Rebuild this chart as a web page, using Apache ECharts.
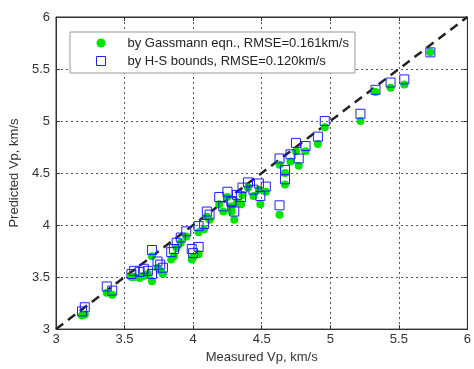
<!DOCTYPE html>
<html>
<head>
<meta charset="utf-8">
<script src="https://cdn.jsdelivr.net/npm/echarts@6/dist/echarts.min.js"></script>
<style>
  html, body { margin: 0; padding: 0; background: #fff; }
  #chart { width: 474px; height: 369px; }
</style>
</head>
<body>
<div id="chart"></div>
<script>
// measured Vp (km/s) and the two predictions for each sample
const measured = [3.19, 3.21, 3.37, 3.41, 3.55, 3.57, 3.61, 3.64, 3.67, 3.70,
  3.70, 3.74, 3.76, 3.78, 3.84, 3.86, 3.88, 3.91, 3.95, 3.99,
  4.00, 4.04, 4.04, 4.08, 4.10, 4.12, 4.19, 4.22, 4.25, 4.28,
  4.28, 4.30, 4.32, 4.35, 4.36, 4.40, 4.44, 4.48, 4.49, 4.53,
  4.63, 4.63, 4.67, 4.67, 4.71, 4.75, 4.77, 4.82, 4.91, 4.96,
  5.22, 5.33, 5.44, 5.54, 5.73];
const gassmann = [3.13, 3.14, 3.35, 3.33, 3.50, 3.50, 3.49, 3.51, 3.53, 3.46,
  3.70, 3.59, 3.56, 3.53, 3.67, 3.70, 3.78, 3.83, 3.89, 3.67,
  3.69, 3.72, 3.93, 3.96, 4.08, 4.05, 4.20, 4.13, 4.27, 4.13,
  4.18, 4.05, 4.22, 4.20, 4.29, 4.36, 4.28, 4.34, 4.20, 4.32,
  4.10, 4.58, 4.39, 4.50, 4.61, 4.71, 4.57, 4.71, 4.78, 4.94,
  5.00, 5.28, 5.32, 5.35, 5.66];
const hsBounds = [3.17, 3.21, 3.41, 3.37, 3.53, 3.56, 3.55, 3.58, 3.56, 3.53,
  3.76, 3.65, 3.62, 3.59, 3.74, 3.77, 3.83, 3.88, 3.94, 3.77,
  3.73, 3.79, 3.99, 4.01, 4.13, 4.10, 4.27, 4.18, 4.32, 4.22,
  4.23, 4.13, 4.29, 4.27, 4.36, 4.41, 4.34, 4.40, 4.28, 4.37,
  4.19, 4.64, 4.44, 4.53, 4.68, 4.79, 4.64, 4.76, 4.85, 5.00,
  5.07, 5.30, 5.37, 5.40, 5.66];
const refLine = [3, 6];
const legendNames = ['by Gassmann eqn., RMSE=0.161km/s', 'by H-S bounds, RMSE=0.120km/s'];

const chart = echarts.init(document.getElementById('chart'));

const font = 'Liberation Sans, Arial, sans-serif';
const axisColor = '#333';
const green = '#00e600';
const blue = '#2020ff';

const baseAxis = {
  type: 'value',
  min: 3,
  max: 6,
  interval: 0.5,
  axisLine: { show: true, onZero: false, lineStyle: { color: axisColor, width: 1 } },
  axisTick: { show: true, inside: true, length: 4, lineStyle: { color: axisColor } },
  splitLine: { show: false }
};

const option = {
  backgroundColor: '#fff',
  animation: false,
  grid: { left: 56, right: 4, top: 17, bottom: 39, show: true, borderColor: axisColor, borderWidth: 1 },
  legend: {
    left: 70,
    top: 32,
    orient: 'vertical',
    backgroundColor: '#fff',
    borderColor: '#999',
    borderWidth: 1,
    borderRadius: 0,
    padding: [4, 6, 5, 26],
    itemGap: 4,
    itemWidth: 9,
    itemHeight: 9,
    textStyle: { fontFamily: font, fontSize: 13, color: '#222', lineHeight: 14, padding: [0, 0, 0, 17] },
    data: [
      { name: legendNames[0], icon: 'circle', itemStyle: { color: green, borderWidth: 0 } },
      { name: legendNames[1], icon: 'rect', itemStyle: { color: 'rgba(0,0,0,0)', borderColor: blue, borderWidth: 1 } }
    ]
  },
  xAxis: [
    Object.assign({}, baseAxis, {
      position: 'bottom',
      name: 'Measured Vp, km/s',
      nameLocation: 'middle',
      nameGap: 20,
      nameTextStyle: { fontFamily: font, fontSize: 13, color: axisColor },
      axisLabel: { fontFamily: font, fontSize: 13, color: axisColor, margin: 4 },
      splitLine: { show: true, lineStyle: { color: '#555', type: [2, 3], width: 1 } }
    }),
    Object.assign({}, baseAxis, { position: 'top', axisLabel: { show: false } })
  ],
  yAxis: [
    Object.assign({}, baseAxis, {
      position: 'left',
      name: 'Predicted Vp, km/s',
      nameLocation: 'middle',
      nameGap: 34,
      nameTextStyle: { fontFamily: font, fontSize: 13, color: axisColor },
      axisLabel: { fontFamily: font, fontSize: 13, color: axisColor, margin: 6 },
      splitLine: { show: true, lineStyle: { color: '#555', type: [2, 3], width: 1 } }
    }),
    Object.assign({}, baseAxis, { position: 'right', axisLabel: { show: false } })
  ],
  series: [
    {
      type: 'line',
      data: [[refLine[0], refLine[0]], [refLine[1], refLine[1]]],
      symbol: 'none',
      silent: true,
      lineStyle: { color: '#222', width: 2.5, type: [9, 6] },
      z: 2
    },
    {
      name: legendNames[0],
      type: 'scatter',
      data: measured.map((m, i) => [m, gassmann[i]]),
      symbol: 'circle',
      symbolSize: 8,
      silent: true,
      emphasis: { disabled: true },
      itemStyle: { color: green, opacity: 1 },
      z: 3
    },
    {
      name: legendNames[1],
      type: 'scatter',
      data: measured.map((m, i) => [m, hsBounds[i]]),
      symbol: 'rect',
      symbolSize: 9,
      silent: true,
      emphasis: { disabled: true },
      itemStyle: { color: 'rgba(0,0,0,0)', borderColor: blue, borderWidth: 1, opacity: 1 },
      z: 4
    }
  ]
};

chart.setOption(option);
</script>
</body>
</html>
